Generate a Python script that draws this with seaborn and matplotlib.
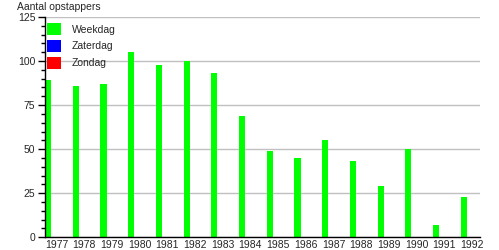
import matplotlib
matplotlib.use("Agg")
import matplotlib.pyplot as plt
import seaborn as sns
import pandas as pd
from matplotlib.ticker import MultipleLocator

years = [str(y) for y in range(1977, 1993)]
weekdag = [89, 86, 87, 105, 98, 100, 93, 69, 49, 45, 55, 43, 29, 50, 7, 23]
zaterdag = [0] * 16
zondag = [0] * 16
series = ["Weekdag", "Zaterdag", "Zondag"]
colors = ["#00FF00", "#0000FF", "#FF0000"]

rows = []
for name, vals in zip(series, [weekdag, zaterdag, zondag]):
    for y, v in zip(years, vals):
        rows.append({"year": y, "value": v, "serie": name})
df = pd.DataFrame(rows)

sns.set_style("white")
plt.rcParams['font.family'] = ['Liberation Sans', 'DejaVu Sans']

fig = plt.figure(figsize=(4.99, 2.5), dpi=100)
ax = fig.add_axes([0.0902, 0.051, 0.872, 0.881])

sns.barplot(data=df, x="year", y="value", hue="serie", hue_order=series,
            palette=colors, width=0.9, gap=0.25, linewidth=0, saturation=1,
            ax=ax, legend=True)

ax.set_xlim(-0.41, 15.29)
ax.set_ylim(0, 125)
ax.yaxis.set_major_locator(MultipleLocator(25))
ax.yaxis.set_minor_locator(MultipleLocator(5))
ax.grid(axis="y", color="#c0c0c0", linewidth=1)
ax.set_axisbelow(True)
for s in ["top", "right"]:
    ax.spines[s].set_visible(False)
for s in ["left", "bottom"]:
    ax.spines[s].set_color("black")
    ax.spines[s].set_linewidth(1)
ax.tick_params(axis="y", which="major", length=5, width=1, color="black",
               labelsize=7.5, pad=2, left=True)
ax.tick_params(axis="y", which="minor", length=3, width=1, color="black", left=True)
ax.tick_params(axis="x", length=0, labelsize=7.5, pad=2)
ax.set_xlabel("")
ax.set_ylabel("")
fig.text(0.034, 0.962, "Aantal opstappers", fontsize=7.5, ha="left", va="baseline")

leg = ax.legend(loc="upper left", bbox_to_anchor=(-0.01, 1.0), frameon=False,
                fontsize=7.5, handlelength=1.4, handleheight=1.4,
                handletextpad=1.0, labelspacing=0.45, borderaxespad=0.2)

fig.savefig("out.png", dpi=100)
